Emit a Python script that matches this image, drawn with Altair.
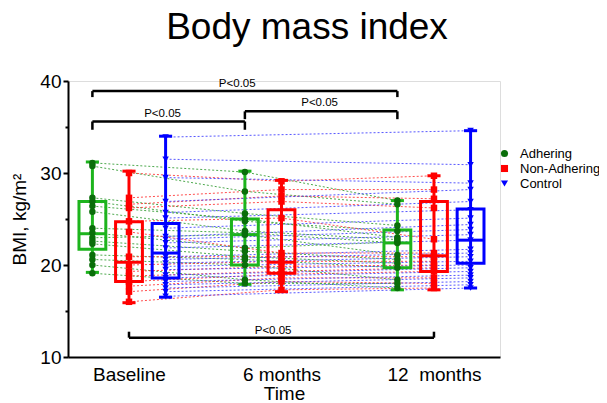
import json
import altair as alt
import pandas as pd

# ---------------- data ----------------
groups = ["Adhering", "Non-Adhering", "Control"]
time_labels = ["Baseline", "6 months", "12\u00a0\u00a0months"]

# individual subjects, BMI kg/m2
adh_base = [31.1, 30.75, 27.3, 26.9, 26.4, 25.8, 24.0, 23.5, 22.96, 22.6, 22.3, 21.1, 20.6, 20.0, 19.1]
adh_6m = [30.1, 28.0, 25.6, 24.75, 25.0, 23.7, 23.5, 21.85, 23.3, 21.5, 20.9, 20.6, 20.0, 18.4, 18.0]
adh_12m = [27.0, 26.6, 24.3, 23.7, 23.0, 22.76, 22.4, 22.5, 21.1, 20.6, 20.2, 19.7, 18.4, 17.5, 18.0]

non_base = [30.0, 27.3, 26.6, 26.2, 24.75, 23.6, 20.9, 20.0, 19.3, 18.8, 18.2, 17.7, 17.1, 16.0]
non_6m = [29.1, 28.2, 27.5, 26.9, 25.1, 21.3, 20.9, 20.4, 19.85, 19.3, 19.0, 18.6, 18.2, 17.3]
non_12m = [29.7, 28.2, 27.2, 26.2, 22.8, 21.3, 20.9, 20.4, 20.0, 19.7, 19.3, 18.6, 18.0, 17.5]

ctl_base = [33.9, 31.5, 29.5, 26.9, 25.7, 25.1, 24.0, 23.1, 22.8, 22.4, 21.85, 20.9, 20.6, 20.2,
            19.85, 19.5, 18.9, 18.6, 18.2, 17.85, 17.5, 17.1, 16.6]
ctl_12m = [34.6, 30.9, 28.9, 28.2, 26.9, 26.0, 25.1, 24.4, 23.85, 23.3, 22.7, 21.7, 21.3, 20.9,
           20.4, 20.0, 19.7, 19.3, 18.9, 18.6, 18.2, 17.85, 17.5]

# box summaries: [min, q1, median, q3, max]
adh_box_base = [19.2, 21.7, 23.4, 26.9, 31.2]
adh_box_6m = [17.9, 20.0, 23.3, 25.0, 30.2]
adh_box_12m = [17.3, 19.7, 22.4, 23.8, 27.0]
non_box_base = [15.9, 18.2, 20.3, 24.7, 30.2]
non_box_6m = [17.1, 19.1, 20.3, 26.0, 29.2]
non_box_12m = [17.3, 19.3, 21.0, 26.9, 29.7]
ctl_box_base = [16.5, 18.6, 21.3, 24.5, 34.0]
ctl_box_12m = [17.5, 20.2, 22.7, 26.1, 34.6]

# significance brackets: (group, time) -> (group, time), bar level, tip level
br_from = [("Adhering", 0), ("Adhering", 0), ("Adhering", 1), ("Non-Adhering", 0)]
br_to = [("Adhering", 2), ("Adhering", 1), ("Adhering", 2), ("Non-Adhering", 2)]
br_level = [38.9, 35.6, 36.7, 12.1]
br_tip = [38.25, 34.7, 35.85, 12.75]
br_label_x = [0.71, 0.22, 1.25, 0.945]
br_label_y = [39.65, 36.45, 37.6, 12.85]
br_text = ["P<0.05", "P<0.05", "P<0.05", "P<0.05"]

# ---------------- styling ----------------
FONT = "Liberation Sans"
offset = {"Adhering": -0.24, "Non-Adhering": 0.0, "Control": 0.24}
point_colors = ["#0a6e0a", "#ff0000", "#0000ff"]
box_color = {"Adhering": "#1db41d", "Non-Adhering": "#ff0000", "Control": "#0000ff"}
line_color = {"Adhering": "#2f9a2f", "Non-Adhering": "#ff3030", "Control": "#3a3aff"}
BOX_HALF = 0.088
CAP_HALF = 0.043

series = {
    "Adhering": {0: adh_base, 1: adh_6m, 2: adh_12m},
    "Non-Adhering": {0: non_base, 1: non_6m, 2: non_12m},
    "Control": {0: ctl_base, 2: ctl_12m},
}
boxes = {
    "Adhering": {0: adh_box_base, 1: adh_box_6m, 2: adh_box_12m},
    "Non-Adhering": {0: non_box_base, 1: non_box_6m, 2: non_box_12m},
    "Control": {0: ctl_box_base, 2: ctl_box_12m},
}

rows = []
for g, per_t in series.items():
    for t, vals in per_t.items():
        for i, v in enumerate(vals):
            rows.append({"subject": f"{g}-{i}", "group": g, "x": t + offset[g], "bmi": v,
                         "lcol": line_color[g]})
pts = pd.DataFrame(rows)

brows = []
for g, per_t in boxes.items():
    for t, (lo, q1, med, q3, hi) in per_t.items():
        c = t + offset[g]
        brows.append({"group": g, "x": c, "xl": c - BOX_HALF, "xr": c + BOX_HALF,
                      "cl": c - CAP_HALF, "cr": c + CAP_HALF,
                      "lo": lo, "q1": q1, "med": med, "q3": q3, "hi": hi,
                      "bcol": box_color[g]})
bx = pd.DataFrame(brows)

brk = []
for (g1, t1), (g2, t2), lv, tp, lx, ly, tx in zip(br_from, br_to, br_level, br_tip,
                                                  br_label_x, br_label_y, br_text):
    brk.append({"x1": t1 + offset[g1], "x2": t2 + offset[g2], "lv": lv, "tp": tp,
                "lx": lx, "ly": ly, "txt": tx})
bk = pd.DataFrame(brk)

# ---------------- scales / axes ----------------
xscale = alt.Scale(domain=[-0.4, 2.433], nice=False, zero=False)
yscale = alt.Scale(domain=[10, 40], nice=False, zero=False)

xaxis = alt.Axis(values=[0, 1, 2], labelExpr=json.dumps(time_labels) + "[datum.value]",
                 ticks=False, grid=False, domainColor="black", domainWidth=2,
                 labelFontSize=19, labelColor="black", labelPadding=8, labelFont=FONT,
                 title="Time", titleFontSize=19, titleFontWeight="normal", titleFont=FONT,
                 titleColor="black", titlePadding=0)
yaxis = alt.Axis(values=[10, 15, 20, 25, 30, 35, 40],
                 labelExpr="datum.value % 10 === 0 ? datum.label : ''",
                 tickSize=alt.expr("datum.value % 10 === 0 ? 5 : 3"),
                 tickWidth=2, tickColor="black", grid=False, domainColor="black", domainWidth=2,
                 labelFontSize=19, labelColor="black", labelPadding=2, labelFont=FONT,
                 title="BMI, kg/m\u00b2", titleFontSize=19, titleFontWeight="normal",
                 titleFont=FONT, titleColor="black", titlePadding=10)

X = lambda f: alt.X(f, type="quantitative", scale=xscale, axis=xaxis)
Y = lambda f: alt.Y(f, type="quantitative", scale=yscale, axis=yaxis)

lines = alt.Chart(pts).mark_line(strokeDash=[2, 2], strokeWidth=1, opacity=0.85).encode(
    x=X("x"), y=Y("bmi"), detail="subject:N", order="x:Q",
    stroke=alt.Stroke("lcol:N", scale=None))

box = alt.Chart(bx).mark_rect(filled=False, strokeWidth=3).encode(
    x=X("xl"), x2="xr", y=Y("q1"), y2="q3", stroke=alt.Stroke("bcol:N", scale=None))
median = alt.Chart(bx).mark_rule(strokeWidth=3).encode(
    x=X("xl"), x2="xr", y=Y("med"), color=alt.Color("bcol:N", scale=None))
whisk = alt.Chart(bx).mark_rule(strokeWidth=3).encode(
    x=X("x"), y=Y("lo"), y2="hi", color=alt.Color("bcol:N", scale=None))
cap_lo = alt.Chart(bx).mark_rule(strokeWidth=3).encode(
    x=X("cl"), x2="cr", y=Y("lo"), color=alt.Color("bcol:N", scale=None))
cap_hi = alt.Chart(bx).mark_rule(strokeWidth=3).encode(
    x=X("cl"), x2="cr", y=Y("hi"), color=alt.Color("bcol:N", scale=None))

leg = alt.Legend(title=None, orient="none", legendX=430, legendY=66, labelFontSize=13,
                 labelFont=FONT, labelColor="black", symbolSize=50, rowPadding=1,
                 labelOffset=9, padding=0, symbolStrokeWidth=0)
points = alt.Chart(pts).mark_point(filled=True, size=42, opacity=1).encode(
    x=X("x"), y=Y("bmi"),
    color=alt.Color("group:N", scale=alt.Scale(domain=groups, range=point_colors), legend=leg),
    shape=alt.Shape("group:N", scale=alt.Scale(domain=groups,
                                               range=["circle", "square", "triangle-down"]),
                    legend=leg))

br_bar = alt.Chart(bk).mark_rule(strokeWidth=2.5, color="black").encode(
    x=X("x1"), x2="x2", y=Y("lv"))
br_l = alt.Chart(bk).mark_rule(strokeWidth=2.5, color="black").encode(
    x=X("x1"), y=Y("lv"), y2="tp")
br_r = alt.Chart(bk).mark_rule(strokeWidth=2.5, color="black").encode(
    x=X("x2"), y=Y("lv"), y2="tp")
br_txt = alt.Chart(bk).mark_text(fontSize=11.5, font=FONT, color="black",
                                 baseline="middle", align="center").encode(
    x=X("lx"), y=Y("ly"), text="txt:N")

chart = alt.layer(lines, box, median, whisk, cap_lo, cap_hi, points,
                  br_bar, br_l, br_r, br_txt).properties(
    width=432, height=276,
    autosize=alt.AutoSizeParams(type="none"),
    padding={"left": 60, "top": 73, "right": 99, "bottom": 45},
    title=alt.TitleParams("Body mass index", fontSize=37, font=FONT, fontWeight="normal",
                          anchor="middle", dx=23, offset=25, color="black"),
).configure_view(stroke=None).configure(font=FONT)

chart.save("out.html", embed_options={"renderer": "svg", "actions": False})
